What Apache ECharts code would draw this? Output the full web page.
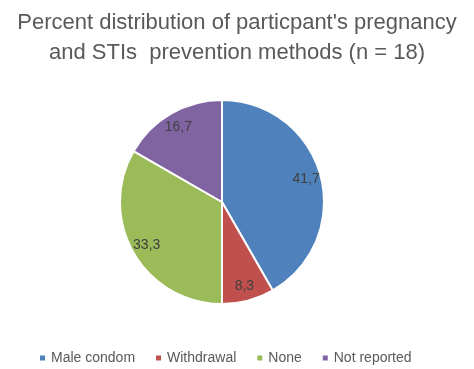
<!DOCTYPE html>
<html><head><meta charset="utf-8">
<script src="https://cdn.jsdelivr.net/npm/echarts@6/dist/echarts.min.js"></script>
<style>html,body{margin:0;padding:0;background:#fff}#c{width:474px;height:369px}</style>
</head><body><div id="c"></div>
<script>
const categories = ['Male condom', 'Withdrawal', 'None', 'Not reported'];
const values = [41.7, 8.3, 33.3, 16.7];
const labels = ['41,7', '8,3', '33,3', '16,7'];
const colors = ['#4F81BD', '#C0504D', '#9BBB59', '#8064A2'];

const data = categories.map((n, i) => ({ name: n, value: values[i], itemStyle: { color: colors[i] } }));
const labelData = categories.map((n, i) => ({ name: n, value: values[i], label: { formatter: labels[i] } }));

const chart = echarts.init(document.getElementById('c'));
chart.setOption({
  backgroundColor: '#fff',
  animation: false,
  title: {
    text: "Percent distribution of particpant's pregnancy\nand STIs  prevention methods (n = 18)",
    left: 'center', top: 3,
    textStyle: { fontFamily: 'Liberation Sans', fontSize: 22, fontWeight: 'normal', color: '#595959', lineHeight: 30 }
  },
  legend: {
    data: categories, bottom: -1, left: 33,
    itemWidth: 7, itemHeight: 7, itemGap: 19, icon: 'rect',
    textStyle: { fontFamily: 'Liberation Sans', fontSize: 14, color: '#595959' }
  },
  series: [
    {
      type: 'pie', center: [222, 202], radius: [0, 102], startAngle: 90, clockwise: true,
      label: { show: false }, labelLine: { show: false },
      itemStyle: { borderColor: '#fff', borderWidth: 2 },
      data: data, silent: true
    },
    {
      type: 'pie', center: [222, 202], radius: [66, 102], startAngle: 90, clockwise: true,
      itemStyle: { color: 'rgba(0,0,0,0)' }, silent: true, legendHoverLink: false,
      label: { show: true, position: 'inside', fontFamily: 'Liberation Sans', fontSize: 14, color: '#404040' },
      labelLine: { show: false },
      data: labelData
    }
  ]
});
</script></body></html>
